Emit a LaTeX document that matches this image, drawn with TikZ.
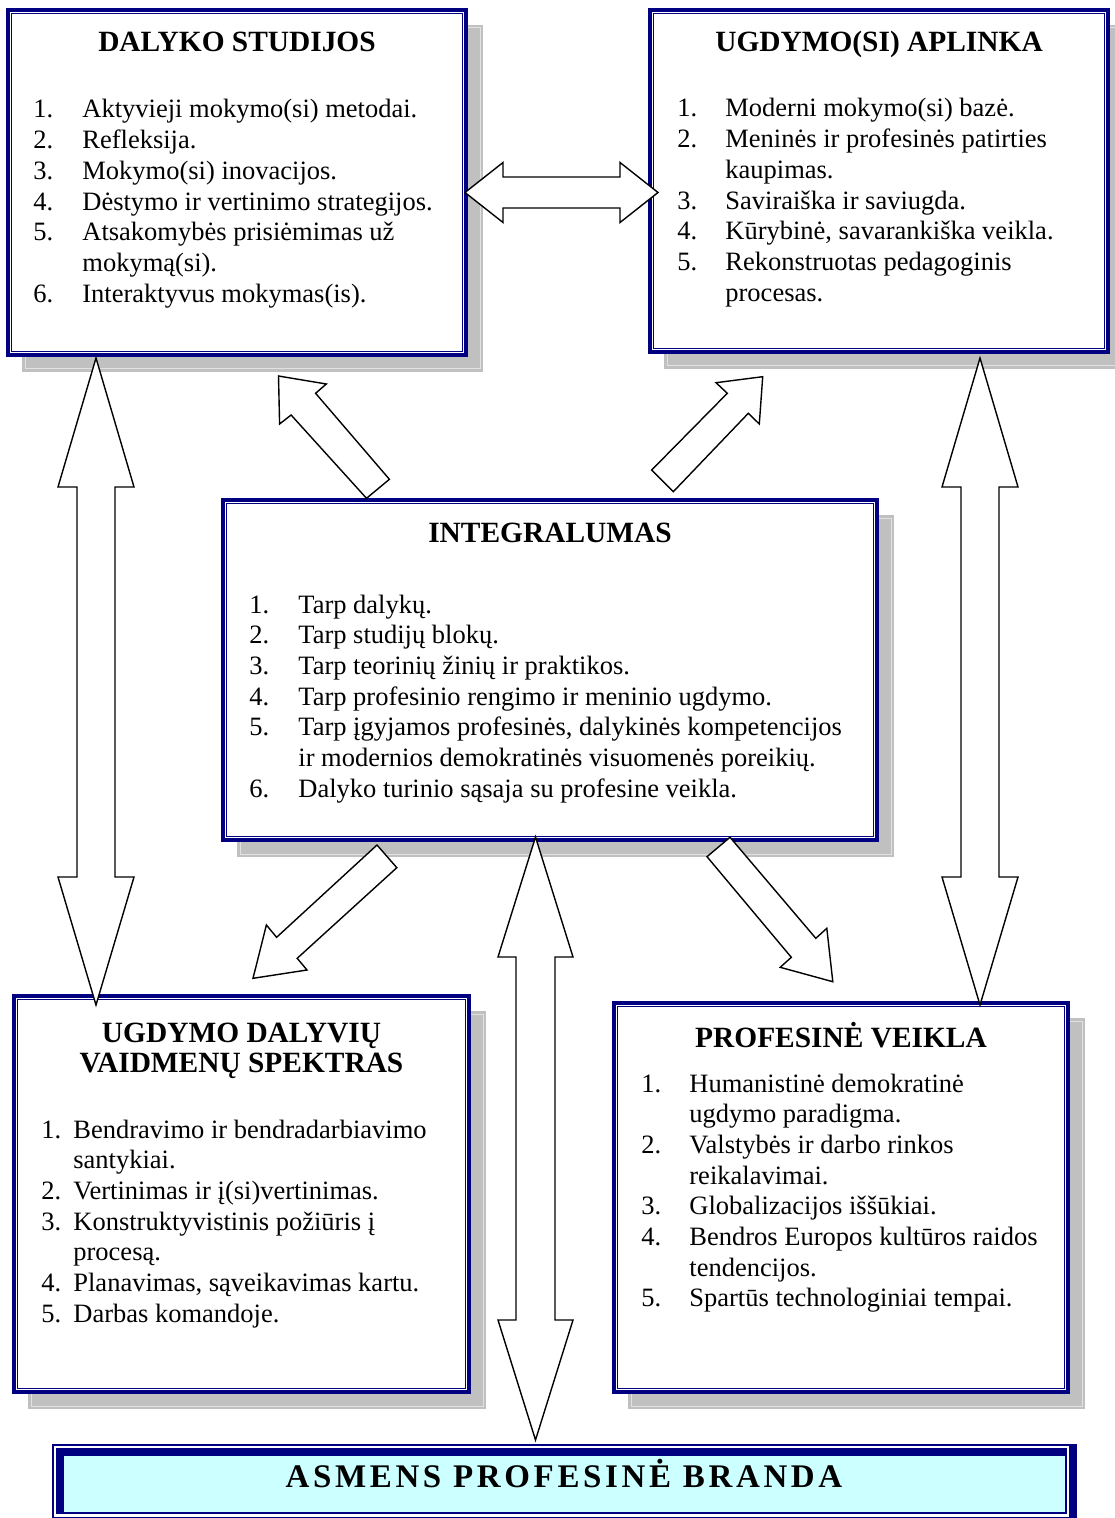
\documentclass[tikz,border=0pt]{standalone}
\usepackage{fontspec}
\setmainfont{Liberation Serif}
\newfontfamily\spacedfont[LetterSpace=11]{Liberation Serif}
\usetikzlibrary{fit,calc}
\definecolor{navy}{HTML}{000080}
\definecolor{shgray}{HTML}{C0C0C0}
\definecolor{shline}{HTML}{E2E2E2}
\definecolor{lightcyan}{HTML}{CCFFFF}
\newcommand{\bodyfont}{\fontsize{13.25pt}{15.35pt}\selectfont}
\newcommand{\titlefont}{\fontsize{14.7pt}{15pt}\selectfont\bfseries}
\newcommand{\numitem}[1]{\makebox[\numw][l]{#1}}
\newcommand{\diagpanel}[5]{%
  \fill[shgray] (#2+14,#3+15) rectangle (#4+17,#5+17);
  \draw[shline] (#2+17,#3+18) rectangle (#4+14,#5+14);
  \node[outerbox, fit={(#2,#3) (#4,#5)}] (#1) {};
  \draw[innerline] ($(#1.north west)+(5,5)$) rectangle ($(#1.south east)+(-5,-5)$);
}
\newcommand{\vdarrow}[7]{% cx, ytop, ybot, headlen top, headlen bottom, head half, shaft half
  \draw[blockarrow] (#1,#2) -- (#1+#6,#2+#4) -- (#1+#7,#2+#4) -- (#1+#7,#3-#5) -- (#1+#6,#3-#5)
    -- (#1,#3) -- (#1-#6,#3-#5) -- (#1-#7,#3-#5) -- (#1-#7,#2+#4) -- (#1-#6,#2+#4) -- cycle;
}
\begin{document}
\begin{tikzpicture}[x=0.5pt,y=-0.5pt,
  outerbox/.style={draw=navy, line width=1.6pt, fill=white, inner sep=0pt},
  innerline/.style={draw=navy, line width=0.75pt},
  shline/.style={draw=shline, line width=0.5pt},
  blockarrow/.style={draw=black, fill=white, line width=0.7pt, line join=miter},
  titlenode/.style={anchor=base, inner sep=0pt, font=\titlefont},
  listnode/.style={anchor=base west, inner sep=0pt, font=\bodyfont}]
\useasboundingbox (0,0) rectangle (1114,1518);
\fill[white] (0,0) rectangle (1114,1518);

\diagpanel{dalyko}{8}{10}{466}{355}
\diagpanel{aplinka}{650}{10}{1108}{352}
\diagpanel{integr}{223}{500}{877}{840}
\diagpanel{dalyviai}{14}{996}{469}{1392}
\diagpanel{veikla}{614}{1003}{1068}{1392}

% bottom box
\fill[navy] (52,1444) rectangle (1077,1520);
\fill[white] (53.7,1446) rectangle (1069,1516.7);
\fill[navy] (55.7,1448) rectangle (1066.7,1513.5);
\fill[lightcyan] (64,1456) rectangle (1065,1511.7);
\node[fit={(52,1444) (1077,1518)}, inner sep=0pt] (brand) {};
\node[anchor=base, inner sep=0pt, font={\fontsize{16.5pt}{18pt}\selectfont\spacedfont\bfseries}] (brandtext) at (564,1487) {ASMENS PROFESINĖ BRANDA};

% titles
\node[titlenode] (t1) at (237,52) {DALYKO STUDIJOS};
\node[titlenode] (t2) at (879,52) {UGDYMO(SI) APLINKA};
\node[titlenode] (t3) at (550,542) {INTEGRALUMAS};
\node[titlenode] (t4) at (241.5,1042) {\begin{tabular}[t]{@{}c@{}}UGDYMO DALYVIŲ\\VAIDMENŲ SPEKTRAS\end{tabular}};
\node[titlenode] (t5) at (841,1047) {PROFESINĖ VEIKLA};

% lists
\node[listnode] (l1) at (33,118) {\def\numw{24.5pt}\begin{tabular}[t]{@{}l@{}}
\numitem{1.}Aktyvieji mokymo(si) metodai.\\
\numitem{2.}Refleksija.\\
\numitem{3.}Mokymo(si) inovacijos.\\
\numitem{4.}Dėstymo ir vertinimo strategijos.\\
\numitem{5.}Atsakomybės prisiėmimas už\\
\hspace*{\numw}mokymą(si).\\
\numitem{6.}Interaktyvus mokymas(is).
\end{tabular}};

\node[listnode] (l2) at (677,117) {\def\numw{24pt}\begin{tabular}[t]{@{}l@{}}
\numitem{1.}Moderni mokymo(si) bazė.\\
\numitem{2.}Meninės ir profesinės patirties\\
\hspace*{\numw}kaupimas.\\
\numitem{3.}Saviraiška ir saviugda.\\
\numitem{4.}Kūrybinė, savarankiška veikla.\\
\numitem{5.}Rekonstruotas pedagoginis\\
\hspace*{\numw}procesas.
\end{tabular}};

\node[listnode] (l3) at (249,613) {\def\numw{24.5pt}\begin{tabular}[t]{@{}l@{}}
\numitem{1.}Tarp dalykų.\\
\numitem{2.}Tarp studijų blokų.\\
\numitem{3.}Tarp teorinių žinių ir praktikos.\\
\numitem{4.}Tarp profesinio rengimo ir meninio ugdymo.\\
\numitem{5.}Tarp įgyjamos profesinės, dalykinės kompetencijos\\
\hspace*{\numw}ir modernios demokratinės visuomenės poreikių.\\
\numitem{6.}Dalyko turinio sąsaja su profesine veikla.
\end{tabular}};

\node[listnode] (l4) at (41,1138) {\def\numw{16pt}\begin{tabular}[t]{@{}l@{}}
\numitem{1.}Bendravimo ir bendradarbiavimo\\
\hspace*{\numw}santykiai.\\
\numitem{2.}Vertinimas ir į(si)vertinimas.\\
\numitem{3.}Konstruktyvistinis požiūris į\\
\hspace*{\numw}procesą.\\
\numitem{4.}Planavimas, sąveikavimas kartu.\\
\numitem{5.}Darbas komandoje.
\end{tabular}};

\node[listnode] (l5) at (641,1092) {\def\numw{24pt}\begin{tabular}[t]{@{}l@{}}
\numitem{1.}Humanistinė demokratinė\\
\hspace*{\numw}ugdymo paradigma.\\
\numitem{2.}Valstybės ir darbo rinkos\\
\hspace*{\numw}reikalavimai.\\
\numitem{3.}Globalizacijos iššūkiai.\\
\numitem{4.}Bendros Europos kultūros raidos\\
\hspace*{\numw}tendencijos.\\
\numitem{5.}Spartūs technologiniai tempai.
\end{tabular}};

% block arrows
% horizontal double arrow between dalyko and aplinka
\draw[blockarrow] (465,192.5) -- (503,162.5) -- (503,177) -- (620,177) -- (620,162.5) -- (658,192.5)
  -- (620,222.5) -- (620,208) -- (503,208) -- (503,222.5) -- cycle;
% vertical double arrows
\vdarrow{96}{358}{1005}{129}{128}{38}{19}
\vdarrow{980}{358}{1005}{129}{128}{38}{19}
\vdarrow{535.5}{837}{1440}{120}{120}{37.5}{19.5}
% diagonal arrows
\draw[blockarrow] (278.5,376) -- (326.3,384) -- (315.6,393.3) -- (389.4,479.3) -- (366.5,498.3) -- (291.1,415) -- (279.6,424) -- cycle;
\draw[blockarrow] (762.7,376.7) -- (759.3,424) -- (748.3,413.3) -- (673.3,491.7) -- (651.7,470) -- (727.3,393.3) -- (716,382.7) -- cycle;
\draw[blockarrow] (377,845) -- (396.8,867.7) -- (297.2,958.3) -- (307,970) -- (253,978.3) -- (266.4,925) -- (276.6,937.3) -- cycle;
\draw[blockarrow] (730,837.3) -- (707,856.7) -- (791.3,957.3) -- (780.2,967.3) -- (832.8,981.7) -- (826.8,928.3) -- (815.8,938.3) -- cycle;
\end{tikzpicture}
\end{document}
